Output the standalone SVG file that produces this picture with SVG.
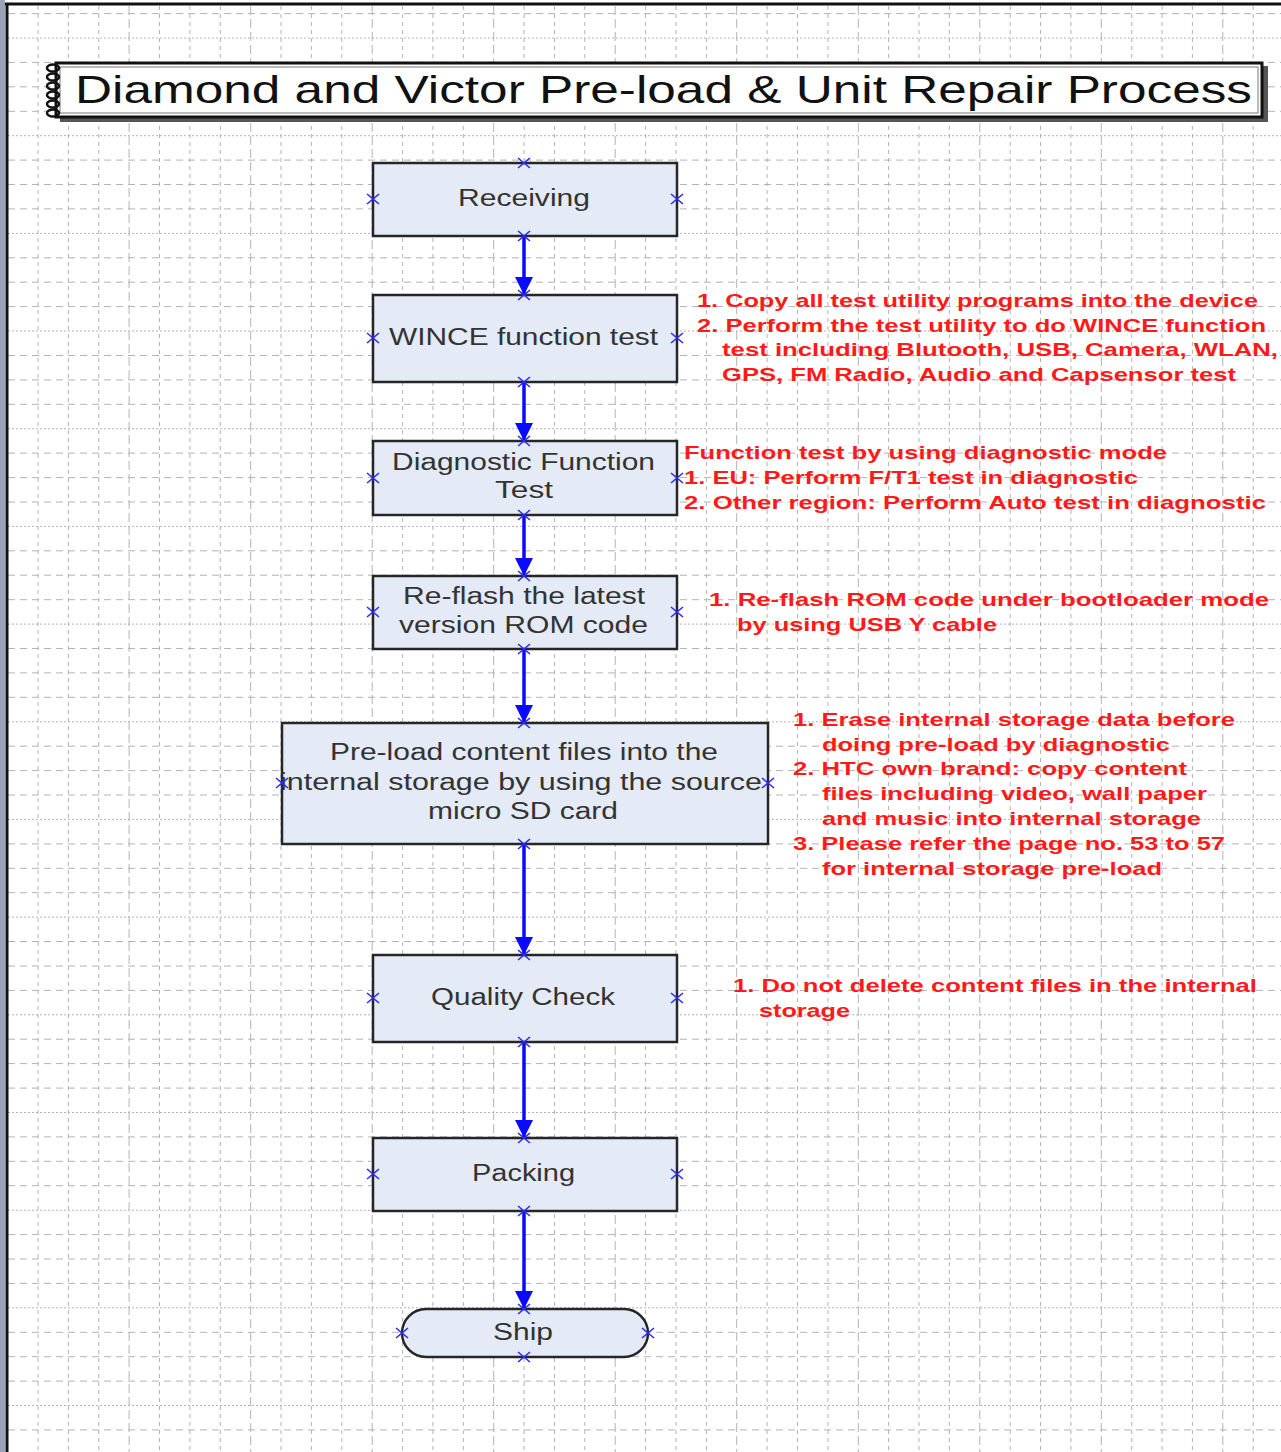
<svg xmlns="http://www.w3.org/2000/svg" width="1281" height="1452" viewBox="0 0 1281 1452">
<defs>
<style>
.gmin{stroke:#b3b3b3;stroke-width:1;fill:none;stroke-dasharray:4 4}
.gmaj{stroke:#b3b3b3;stroke-width:1;fill:none;stroke-dasharray:9 4}
.hdash{stroke:#b3b3b3;stroke-width:1;fill:none;stroke-dasharray:7 5}
.hdot{stroke:#b3b3b3;stroke-width:1;fill:none;stroke-dasharray:2 2}
.box{fill:#e4eaf6;stroke:#262626;stroke-width:2.5}
.nt{font-family:"Liberation Sans",Arial,sans-serif;font-size:23px;fill:#333333;text-anchor:middle}
.rt{font-family:"Liberation Sans",Arial,sans-serif;font-size:19px;font-weight:bold;fill:#ff1a1a}
.con{stroke:#0a0aff;stroke-width:3.5;fill:none;marker-end:url(#ah)}
.xm{stroke:#2b2bff;stroke-width:1.6;fill:none}
</style>
<marker id="ah" viewBox="0 0 20 20" refX="20" refY="10" markerUnits="userSpaceOnUse" markerWidth="22" markerHeight="18" orient="auto">
<path d="M0,0 L20,10 L0,20 z" fill="#0a0aff"/>
</marker>
<path id="x" class="xm" d="M-6,-5 L6,5 M-6,5 L6,-5"/>
</defs>
<rect width="1281" height="1452" fill="#ffffff"/>
<g id="grid">
<path class="gmin" d="M38 6V1452M68.4 6V1452M98.8 6V1452M159.5 6V1452M189.9 6V1452M220.3 6V1452M281 6V1452M311.4 6V1452M341.8 6V1452M402.6 6V1452M432.9 6V1452M463.3 6V1452M524.1 6V1452M554.5 6V1452M584.8 6V1452M645.6 6V1452M676 6V1452M706.4 6V1452M767.1 6V1452M797.5 6V1452M827.9 6V1452M888.6 6V1452M919 6V1452M949.4 6V1452M1010.2 6V1452M1040.5 6V1452M1070.9 6V1452M1131.7 6V1452M1162.1 6V1452M1192.4 6V1452M1253.2 6V1452"/>
<path class="gmaj" d="M129.1 6V1452M250.7 6V1452M372.2 6V1452M493.7 6V1452M615.2 6V1452M736.7 6V1452M858.3 6V1452M979.8 6V1452M1101.3 6V1452M1222.8 6V1452"/>
<path class="hdash" d="M8 13.6H1281M8 62.4H1281M8 86.8H1281M8 111.3H1281M8 160.1H1281M8 184.5H1281M8 208.9H1281M8 257.8H1281M8 282.2H1281M8 306.6H1281M8 355.5H1281M8 379.9H1281M8 404.3H1281M8 453.1H1281M8 477.6H1281M8 502H1281M8 550.8H1281M8 575.2H1281M8 599.7H1281M8 648.5H1281M8 672.9H1281M8 697.3H1281M8 746.2H1281M8 770.6H1281M8 795H1281M8 843.9H1281M8 868.3H1281M8 892.7H1281M8 941.5H1281M8 966H1281M8 990.4H1281M8 1039.2H1281M8 1063.6H1281M8 1088.1H1281M8 1136.9H1281M8 1161.3H1281M8 1185.7H1281M8 1234.6H1281M8 1259H1281M8 1283.4H1281M8 1332.3H1281M8 1356.7H1281M8 1381.1H1281M8 1429.9H1281"/>
<path class="hdot" d="M8 38H1281M8 135.7H1281M8 233.4H1281M8 331H1281M8 428.7H1281M8 526.4H1281M8 624.1H1281M8 721.8H1281M8 819.4H1281M8 917.1H1281M8 1014.8H1281M8 1112.5H1281M8 1210.2H1281M8 1307.8H1281M8 1405.5H1281"/>
</g>
<g id="frame">
<rect x="0" y="0" width="5" height="1452" fill="#9aa4b8"/>
<line x1="7" y1="3" x2="7" y2="1452" stroke="#111" stroke-width="3"/>
<line x1="5" y1="4" x2="1281" y2="4" stroke="#111" stroke-width="3"/>
</g>
<g id="title">
<rect x="60" y="66" width="1208" height="56" fill="#555555"/>
<rect x="56" y="63" width="1206" height="54" fill="#ffffff" stroke="#111" stroke-width="3"/>
<rect x="60" y="67" width="1198" height="46" fill="none" stroke="#777" stroke-width="1"/>
<g fill="none" stroke="#111" stroke-width="2.5">
<ellipse cx="53" cy="68" rx="6" ry="3.5"/>
<ellipse cx="53" cy="77" rx="6" ry="3.5"/>
<ellipse cx="53" cy="86" rx="6" ry="3.5"/>
<ellipse cx="53" cy="95" rx="6" ry="3.5"/>
<ellipse cx="53" cy="104" rx="6" ry="3.5"/>
<ellipse cx="53" cy="113" rx="6" ry="3.5"/>
</g>
<text x="75" y="103" font-family="Liberation Sans, Arial, sans-serif" font-size="39" fill="#111" textLength="1177" lengthAdjust="spacingAndGlyphs">Diamond and Victor Pre-load &amp; Unit Repair Process</text>
</g>
<g id="connectors">
<path class="con" d="M524 236V295"/>
<path class="con" d="M524 382V441"/>
<path class="con" d="M524 515V576"/>
<path class="con" d="M524 649V723"/>
<path class="con" d="M524 844V955"/>
<path class="con" d="M524 1042V1138"/>
<path class="con" d="M524 1211V1309"/>
</g>
<g id="receiving">
<rect class="box" x="373" y="163" width="304" height="73"/>
<text class="nt" x="524" y="206" textLength="132" lengthAdjust="spacingAndGlyphs">Receiving</text>
<use href="#x" x="524" y="163"/><use href="#x" x="373" y="199"/><use href="#x" x="677" y="199"/><use href="#x" x="524" y="236"/>
</g>
<g id="wince">
<rect class="box" x="373" y="295" width="304" height="87"/>
<text class="nt" x="523.5" y="345" textLength="269" lengthAdjust="spacingAndGlyphs">WINCE function test</text>
<use href="#x" x="524" y="295"/><use href="#x" x="373" y="338"/><use href="#x" x="677" y="338"/><use href="#x" x="524" y="382"/>
</g>
<g id="diagnostic">
<rect class="box" x="373" y="441" width="304" height="74"/>
<text class="nt" x="523.5" y="470" textLength="263" lengthAdjust="spacingAndGlyphs">Diagnostic Function</text>
<text class="nt" x="524" y="498" textLength="58" lengthAdjust="spacingAndGlyphs">Test</text>
<use href="#x" x="524" y="441"/><use href="#x" x="373" y="478"/><use href="#x" x="677" y="478"/><use href="#x" x="524" y="515"/>
</g>
<g id="reflash">
<rect class="box" x="373" y="576" width="304" height="73"/>
<text class="nt" x="524" y="604" textLength="242" lengthAdjust="spacingAndGlyphs">Re-flash the latest</text>
<text class="nt" x="523.5" y="633" textLength="249" lengthAdjust="spacingAndGlyphs">version ROM code</text>
<use href="#x" x="524" y="576"/><use href="#x" x="373" y="612"/><use href="#x" x="677" y="612"/><use href="#x" x="524" y="649"/>
</g>
<g id="preload">
<rect class="box" x="282" y="723" width="486" height="121"/>
<text class="nt" x="524" y="760" textLength="388" lengthAdjust="spacingAndGlyphs">Pre-load content files into the</text>
<text class="nt" x="521" y="790" textLength="482" lengthAdjust="spacingAndGlyphs">internal storage by using the source</text>
<text class="nt" x="523" y="819" textLength="190" lengthAdjust="spacingAndGlyphs">micro SD card</text>
<use href="#x" x="524" y="723"/><use href="#x" x="282" y="783"/><use href="#x" x="768" y="783"/><use href="#x" x="524" y="844"/>
</g>
<g id="quality">
<rect class="box" x="373" y="955" width="304" height="87"/>
<text class="nt" x="523" y="1005" textLength="184" lengthAdjust="spacingAndGlyphs">Quality Check</text>
<use href="#x" x="524" y="955"/><use href="#x" x="373" y="998"/><use href="#x" x="677" y="998"/><use href="#x" x="524" y="1042"/>
</g>
<g id="packing">
<rect class="box" x="373" y="1138" width="304" height="73"/>
<text class="nt" x="523.5" y="1181" textLength="103" lengthAdjust="spacingAndGlyphs">Packing</text>
<use href="#x" x="524" y="1138"/><use href="#x" x="373" y="1174"/><use href="#x" x="677" y="1174"/><use href="#x" x="524" y="1211"/>
</g>
<g id="ship">
<rect class="box" x="402" y="1309" width="246" height="48" rx="24" ry="24"/>
<text class="nt" x="523" y="1340" textLength="60" lengthAdjust="spacingAndGlyphs">Ship</text>
<use href="#x" x="524" y="1309"/><use href="#x" x="402" y="1333"/><use href="#x" x="648" y="1333"/><use href="#x" x="524" y="1357"/>
</g>
<g id="note-wince">
<text class="rt" x="697" y="307" textLength="561" lengthAdjust="spacingAndGlyphs">1. Copy all test utility programs into the device</text>
<text class="rt" x="697" y="332" textLength="569" lengthAdjust="spacingAndGlyphs">2. Perform the test utility to do WINCE function</text>
<text class="rt" x="722" y="356" textLength="556" lengthAdjust="spacingAndGlyphs">test including Blutooth, USB, Camera, WLAN,</text>
<text class="rt" x="722" y="381" textLength="514" lengthAdjust="spacingAndGlyphs">GPS, FM Radio, Audio and Capsensor test</text>
</g>
<g id="note-diagnostic">
<text class="rt" x="684" y="459" textLength="483" lengthAdjust="spacingAndGlyphs">Function test by using diagnostic mode</text>
<text class="rt" x="684" y="484" textLength="454" lengthAdjust="spacingAndGlyphs">1. EU: Perform F/T1 test in diagnostic</text>
<text class="rt" x="684" y="509" textLength="582" lengthAdjust="spacingAndGlyphs">2. Other region: Perform Auto test in diagnostic</text>
</g>
<g id="note-reflash">
<text class="rt" x="709" y="606" textLength="560" lengthAdjust="spacingAndGlyphs">1. Re-flash ROM code under bootloader mode</text>
<text class="rt" x="737" y="631" textLength="260" lengthAdjust="spacingAndGlyphs">by using USB Y cable</text>
</g>
<g id="note-preload">
<text class="rt" x="793" y="726" textLength="442" lengthAdjust="spacingAndGlyphs">1. Erase internal storage data before</text>
<text class="rt" x="822" y="751" textLength="348" lengthAdjust="spacingAndGlyphs">doing pre-load by diagnostic</text>
<text class="rt" x="793" y="775" textLength="394" lengthAdjust="spacingAndGlyphs">2. HTC own brand: copy content</text>
<text class="rt" x="822" y="800" textLength="385" lengthAdjust="spacingAndGlyphs">files including video, wall paper</text>
<text class="rt" x="822" y="825" textLength="379" lengthAdjust="spacingAndGlyphs">and music into internal storage</text>
<text class="rt" x="793" y="850" textLength="432" lengthAdjust="spacingAndGlyphs">3. Please refer the page no. 53 to 57</text>
<text class="rt" x="822" y="875" textLength="340" lengthAdjust="spacingAndGlyphs">for internal storage pre-load</text>
</g>
<g id="note-quality">
<text class="rt" x="733" y="992" textLength="524" lengthAdjust="spacingAndGlyphs">1. Do not delete content files in the internal</text>
<text class="rt" x="759" y="1017" textLength="91" lengthAdjust="spacingAndGlyphs">storage</text>
</g>
</svg>
